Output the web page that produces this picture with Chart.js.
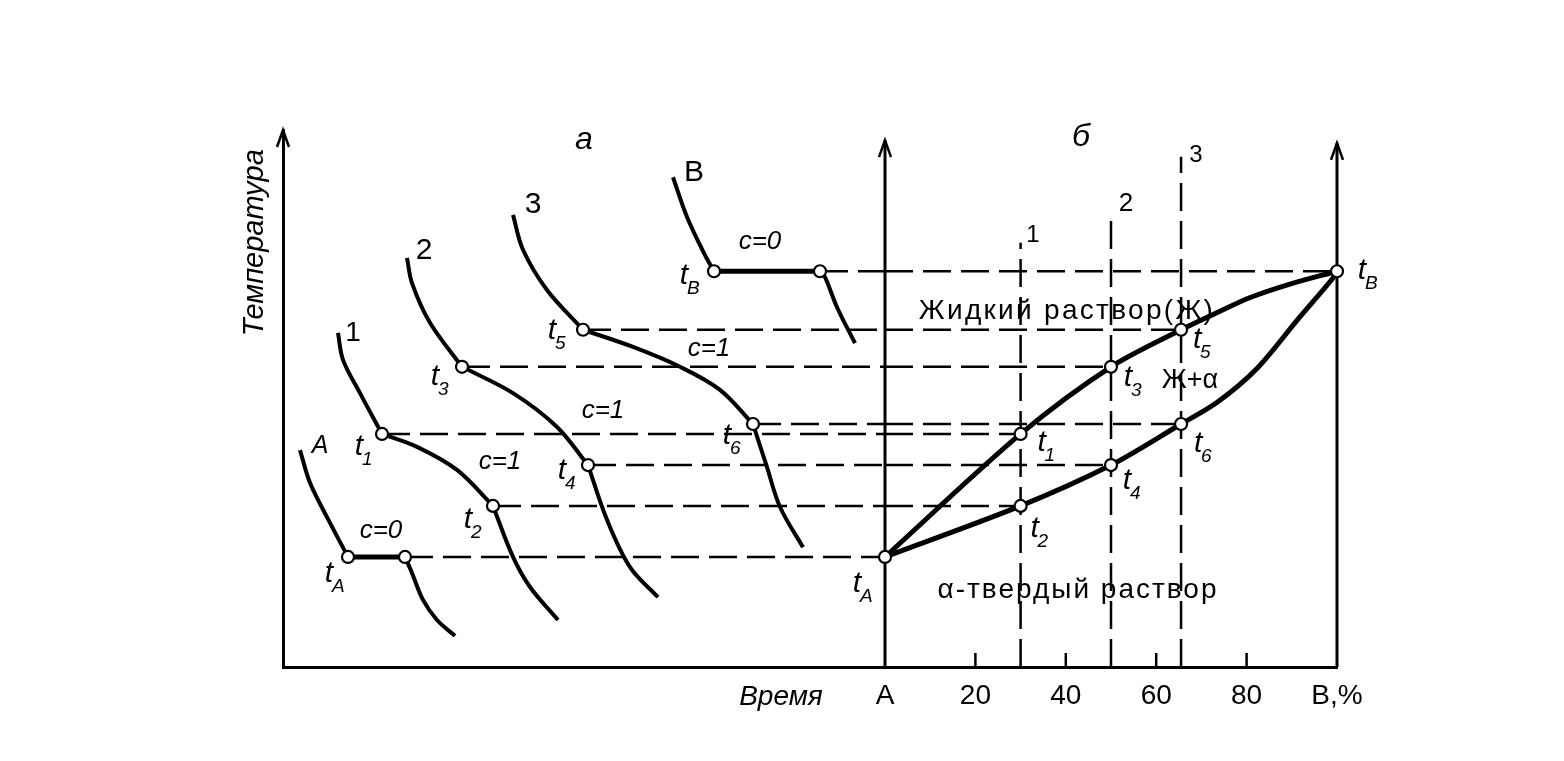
<!DOCTYPE html>
<html>
<head>
<meta charset="utf-8">
<script src="https://cdn.jsdelivr.net/npm/chart.js@4.4.1/dist/chart.umd.min.js"></script>
<style>
html, body { margin: 0; padding: 0; background: #fff; }
canvas { display: block; }
</style>
</head>
<body>
<canvas id="diagram" width="1564" height="761"></canvas>
<script>
// alloys: A, 1, 2, 3, B  (composition, % B)
var alloyComp = [0, 30, 50, 65.5, 100];
// start / end of crystallization (temperature, arbitrary units)
var liquidusT = [20.5, 43.4, 55.9, 62.8, 73.7];   // tA, t1, t3, t5, tB
var solidusT  = [20.5, 30.0, 37.6, 45.25, 73.7];  // tA, t2, t4, t6, tB
var liquidusNames = ['A', '1', '3', '5', 'B'];
var solidusNames  = ['A', '2', '4', '6', 'B'];
// points of the curves between alloy 3 and B
var liqExtraComp = [73.5, 80.8, 89.6];
var liqExtraT    = [66.0, 68.8, 71.3];
var solExtraComp = [73.5, 82.3, 91.2, 98.9];
var solExtraT    = [49.3, 55.6, 64.6, 72.2];
// how high the dashed verticals of alloys 1..3 go
var alloyLineTop = [79.0, 84.7, 95.0];
// bottom axis
var compTicks  = [0, 20, 40, 60, 80, 100];
var compLabels = ['A', '20', '40', '60', '80', 'B,%'];
var minorTicks = [20, 40, 60, 80];

// cooling curves (a): time of the breaks
var breakStart = [6.5, 9.9, 17.9, 30.0, 43.1];
var breakEnd   = [12.2, 21.0, 30.5, 47.0, 53.7];
// liquid part (before breakStart)
var coolLiqTime = [[1.7, 2.7, 4.4], [5.5, 6.0, 7.7], [12.4, 12.9, 14.7], [23.0, 24.0, 26.4], [39.0, 40.4, 42.2]];
var coolLiqTemp = [[40.4, 34.3, 27.9], [62.2, 57.2, 51.0], [76.2, 71.5, 64.1], [84.2, 77.7, 70.2], [91.2, 83.8, 76.7]];
// crystallization part (between breaks)
var coolMidTime = [[], [13.4, 17.4], [23.0, 27.4], [35.0, 39.7, 43.7], []];
var coolMidTemp = [[], [41.0, 36.7], [51.0, 44.7], [59.6, 55.9, 51.6], []];
// solid part (after breakEnd)
var coolSolTime = [[12.9, 14.0, 15.4, 17.2], [23.0, 24.7, 27.5], [32.4, 34.7, 37.5], [48.4, 49.7, 52.0], [54.2, 55.4, 57.2]];
var coolSolTemp = [[17.5, 12.5, 8.75, 5.8], [20.5, 14.9, 8.75], [27.4, 18.6, 13.0], [37.2, 29.8, 22.3], [72.6, 67.0, 60.3]];

var axisTop = [100, 98.1, 97.6];  // left axis, A axis, B axis

// time axis spans the whole width, A axis sits at timeAtA
var timeMax = 105.4;
var timeAtA = 60.2;
var compMin = -100 * timeAtA / (timeMax - timeAtA);

var FONT = "'Liberation Sans Narrow','Liberation Sans',Arial,sans-serif";
var DASH = [28, 10];

function pts(xs, ys) {
    var out = [];
    for (var i = 0; i < xs.length; i++) out.push({x: xs[i], y: ys[i]});
    return out;
}

function line(axis, data, opts) {
    var ds = {
        xAxisID: axis, yAxisID: 'y', data: data,
        borderColor: '#000', borderWidth: 4, pointRadius: 0,
        tension: 0, fill: false, clip: false, order: 2
    };
    for (var k in opts) ds[k] = opts[k];
    return ds;
}

var datasets = [];

// axes A and B of the phase diagram
datasets.push(line('x', [{x: 0, y: 0}, {x: 0, y: axisTop[1]}], {borderWidth: 3}));
datasets.push(line('x', [{x: 100, y: 0}, {x: 100, y: axisTop[2]}], {borderWidth: 3}));

// small ticks on the bottom axis
var tickPts = [];
minorTicks.forEach(function (v) {
    tickPts.push({x: v, y: 0}, {x: v, y: 2.6}, {x: v, y: null});
});
datasets.push(line('x', tickPts, {borderWidth: 2.5, spanGaps: false}));

// dashed verticals of alloys 1..3
for (var i = 1; i <= 3; i++) {
    datasets.push(line('x', [{x: alloyComp[i], y: 0}, {x: alloyComp[i], y: alloyLineTop[i - 1]}],
        {borderWidth: 2.5, borderDash: DASH, order: 3}));
}

// dashed horizontals from cooling curves to phase diagram
function dashedLevel(t0, temp, comp) {
    datasets.push(line('xt', [{x: t0, y: temp}, {x: timeAtA, y: temp}], {borderWidth: 2.5, borderDash: DASH, order: 3}));
    if (comp > 0) {
        datasets.push(line('x', [{x: 0, y: temp}, {x: comp, y: temp}], {borderWidth: 2.5, borderDash: DASH, order: 3}));
    }
}
for (var i = 0; i < 5; i++) {
    if (i > 0 && i < 4) dashedLevel(breakStart[i], liquidusT[i], alloyComp[i]);
    dashedLevel(breakEnd[i], solidusT[i], alloyComp[i]);
}

// cooling curves
for (var i = 0; i < 5; i++) {
    var liq = pts(coolLiqTime[i], coolLiqTemp[i]);
    liq.push({x: breakStart[i], y: liquidusT[i]});
    var mid = [{x: breakStart[i], y: liquidusT[i]}].concat(pts(coolMidTime[i], coolMidTemp[i]));
    mid.push({x: breakEnd[i], y: solidusT[i]});
    var sol = [{x: breakEnd[i], y: solidusT[i]}].concat(pts(coolSolTime[i], coolSolTemp[i]));
    datasets.push(line('xt', liq, {tension: 0.35}));
    datasets.push(line('xt', mid, {tension: 0.35, borderWidth: (i === 0 || i === 4) ? 5 : 4}));
    datasets.push(line('xt', sol, {tension: 0.35}));
}

// liquidus and solidus
var liqPts = pts(alloyComp.slice(0, 4), liquidusT.slice(0, 4))
    .concat(pts(liqExtraComp, liqExtraT), [{x: alloyComp[4], y: liquidusT[4]}]);
var solPts = pts(alloyComp.slice(0, 4), solidusT.slice(0, 4))
    .concat(pts(solExtraComp, solExtraT), [{x: alloyComp[4], y: solidusT[4]}]);
datasets.push(line('x', liqPts, {borderWidth: 5, tension: 0.3, order: 1}));
datasets.push(line('x', solPts, {borderWidth: 5, tension: 0.3, order: 1}));

// open circles
var circle = {showLine: false, pointRadius: 6, pointBackgroundColor: '#fff',
              pointBorderColor: '#000', pointBorderWidth: 2.2, order: 0};
var leftCircles = pts(breakStart, liquidusT).concat(pts(breakEnd, solidusT));
var rightCircles = pts(alloyComp, liquidusT).concat(pts(alloyComp.slice(1, 4), solidusT.slice(1, 4)));
datasets.push(line('xt', leftCircles, circle));
datasets.push(line('x', rightCircles, circle));

// label offsets (px) from their circles
var leftLiqOff  = [[-19, 17], [-23, 13], [-27, 10], [-31, 1], [-30, 4]];
var leftSolOff  = [null, [-25, 14], [-26, 6], [-26, 12], null];
var rightLiqOff = [[-28, 27], [21, 9], [17, 11], [16, 10], [25, -1]];
var rightSolOff = [null, [14, 23], [16, 16], [17, 20], null];

var notes = [
    {text: 'a', x: 30.1, y: 98.1, size: 32, italic: true},
    {text: 'б', x: 79.8, y: 98.7, size: 32, italic: true},
    {text: 'A', x: 3.7, y: 41.2, size: 25, italic: true},
    {text: '1', x: 7.0, y: 62.2, size: 28},
    {text: '2', x: 14.1, y: 77.5, size: 30},
    {text: '3', x: 25.0, y: 86.0, size: 30},
    {text: 'B', x: 41.1, y: 92.0, size: 30},
    {text: '1', x: 75.0, y: 80.4, size: 24},
    {text: '2', x: 84.3, y: 86.2, size: 26},
    {text: '3', x: 91.3, y: 95.3, size: 24},
    {text: 'c=0', x: 9.8, y: 25.3, size: 26, italic: true},
    {text: 'c=1', x: 21.7, y: 38.2, size: 26, italic: true},
    {text: 'c=1', x: 32.0, y: 47.7, size: 26, italic: true},
    {text: 'c=1', x: 42.6, y: 59.2, size: 26, italic: true},
    {text: 'c=0', x: 47.7, y: 79.1, size: 26, italic: true},
    {text: 'Жидкий раствор(Ж)', x: 78.4, y: 66.3, size: 28, spacing: 2.3},
    {text: 'Ж+α', x: 90.7, y: 53.4, size: 27},
    {text: 'α-твердый раствор', x: 79.5, y: 14.3, size: 28, spacing: 2},
    {text: 'Время', x: 49.8, y: -5.6, size: 28, italic: true},
    {text: 'Температура', x: -2.8, y: 79.0, size: 29, italic: true, rotate: true}
];

function setFont(ctx, size, italic, spacing) {
    ctx.font = (italic ? 'italic ' : '') + size + 'px ' + FONT;
    ctx.letterSpacing = (spacing || 0) + 'px';
}

function drawT(ctx, sub, px, py) {
    ctx.textAlign = 'center';
    ctx.textBaseline = 'middle';
    setFont(ctx, 30, true);
    ctx.fillText('t', px, py);
    ctx.textAlign = 'left';
    setFont(ctx, 19, true);
    ctx.fillText(sub, px + 3, py + 13);
}

var decorPlugin = {
    id: 'decor',
    afterDatasetsDraw: function (chart) {
        var ctx = chart.ctx;
        var xt = chart.scales.xt, xc = chart.scales.x, ys = chart.scales.y;
        ctx.save();
        ctx.fillStyle = '#000';
        ctx.strokeStyle = '#000';

        // arrow heads
        ctx.lineWidth = 2.5;
        var tips = [[xt.getPixelForValue(0), ys.getPixelForValue(axisTop[0])],
                    [xc.getPixelForValue(0), ys.getPixelForValue(axisTop[1])],
                    [xc.getPixelForValue(100), ys.getPixelForValue(axisTop[2])]];
        tips.forEach(function (p) {
            ctx.beginPath();
            ctx.moveTo(p[0] - 6, p[1] + 17);
            ctx.lineTo(p[0], p[1]);
            ctx.lineTo(p[0] + 6, p[1] + 17);
            ctx.stroke();
        });

        // t labels
        for (var i = 0; i < 5; i++) {
            var o = leftLiqOff[i];
            drawT(ctx, liquidusNames[i], xt.getPixelForValue(breakStart[i]) + o[0], ys.getPixelForValue(liquidusT[i]) + o[1]);
            o = rightLiqOff[i];
            drawT(ctx, liquidusNames[i], xc.getPixelForValue(alloyComp[i]) + o[0], ys.getPixelForValue(liquidusT[i]) + o[1]);
            if (leftSolOff[i]) {
                o = leftSolOff[i];
                drawT(ctx, solidusNames[i], xt.getPixelForValue(breakEnd[i]) + o[0], ys.getPixelForValue(solidusT[i]) + o[1]);
                o = rightSolOff[i];
                drawT(ctx, solidusNames[i], xc.getPixelForValue(alloyComp[i]) + o[0], ys.getPixelForValue(solidusT[i]) + o[1]);
            }
        }

        // other text
        notes.forEach(function (n) {
            var px = xt.getPixelForValue(n.x), py = ys.getPixelForValue(n.y);
            setFont(ctx, n.size, n.italic, n.spacing);
            ctx.textAlign = 'center';
            ctx.textBaseline = 'middle';
            if (n.rotate) {
                ctx.save();
                ctx.translate(px, py);
                ctx.rotate(-Math.PI / 2);
                ctx.fillText(n.text, 0, 0);
                ctx.restore();
            } else {
                ctx.fillText(n.text, px, py);
            }
        });
        ctx.restore();
    }
};

new Chart(document.getElementById('diagram'), {
    type: 'line',
    data: {datasets: datasets},
    options: {
        responsive: false,
        animation: false,
        devicePixelRatio: 1,
        layout: {padding: {left: 283, right: 227, top: 130, bottom: 0}},
        plugins: {legend: {display: false}, tooltip: {enabled: false}},
        scales: {
            x: {
                type: 'linear', position: 'bottom', min: compMin, max: 100,
                afterBuildTicks: function (s) { s.ticks = compTicks.map(function (v) { return {value: v}; }); },
                afterFit: function (s) { s.height = 94; },
                ticks: {
                    callback: function (v, idx) { return compLabels[idx]; },
                    padding: 12, color: '#000', maxRotation: 0, autoSkip: false,
                    font: {family: FONT, size: 28}
                },
                grid: {display: false, drawTicks: false},
                border: {display: true, color: '#000', width: 3}
            },
            xt: {type: 'linear', display: false, min: 0, max: timeMax},
            y: {
                type: 'linear', min: 0, max: 100,
                afterFit: function (s) { s.width = 0; },
                ticks: {display: false},
                grid: {display: false, drawTicks: false},
                border: {display: true, color: '#000', width: 3}
            }
        }
    },
    plugins: [decorPlugin]
});
</script>
</body>
</html>
